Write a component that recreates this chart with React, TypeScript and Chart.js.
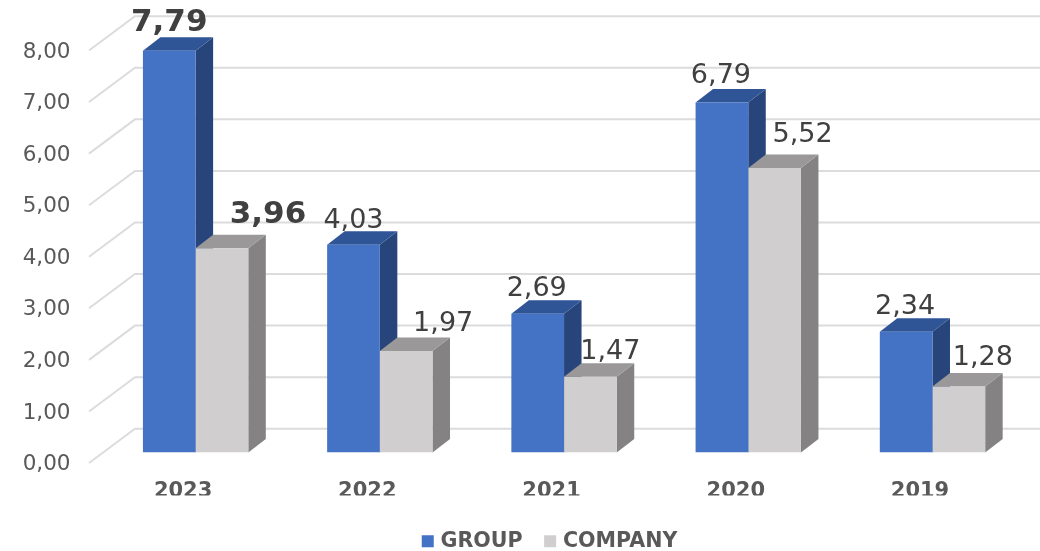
import React, { useEffect, useRef } from "react";
import { Chart, registerables } from "chart.js";

Chart.register(...registerables);

const categories = ["2023", "2022", "2021", "2020", "2019"];
const groupValues = [7.79, 4.03, 2.69, 6.79, 2.34];
const companyValues = [3.96, 1.97, 1.47, 5.52, 1.28];
const seriesNames = ["GROUP", "COMPANY"];

// Data label placement relative to the top centre of each bar: [dx, dy].
const groupLabelShift = [[0, -28], [0, -24], [-1, -25], [-1, -26], [-1, -25]];
const companyLabelShift = [[46, -33], [37, -27], [20, -25], [28, -33], [24, -29]];
const boldCategory = "2023";

const FONT = '"DejaVu Sans", Verdana, sans-serif';
const TEXT = "#595959";
const VALUE_TEXT = "#404040";
const GRID = "#DCDCDC";
const faces = [
  { front: "#4472C4", top: "#2F5597", side: "#27457B" },
  { front: "#D0CECE", top: "#9A9898", side: "#848282" },
];
// Oblique projection of the bars and of the floor/wall grid.
const BAR_DX = 17.5;
const BAR_DY = 13.5;

const formatValue = (v: number) => v.toFixed(2).replace(".", ",");

const wallPlugin = {
  id: "wall",
  beforeDatasetsDraw(chart: any) {
    const { ctx, scales, chartArea } = chart;
    const y = scales.y;
    ctx.save();
    ctx.strokeStyle = GRID;
    ctx.lineWidth = 2;
    y.ticks.forEach((t: any) => {
      const py = y.getPixelForValue(t.value);
      ctx.beginPath();
      ctx.moveTo(chartArea.left - 14.5, py + 10.5);
      ctx.lineTo(chartArea.left + 31.5, py - 23.8);
      ctx.lineTo(chart.width, py - 23.8);
      ctx.stroke();
    });
    ctx.restore();
  },
};

// Side and top faces go under the flat bars the library draws as front faces.
const depthPlugin = {
  id: "depth",
  beforeDatasetsDraw(chart: any) {
    const { ctx } = chart;
    ctx.save();
    [0, 1].forEach((d) => {
      chart.getDatasetMeta(d).data.forEach((bar: any) => {
        const { x, y, base, width } = bar.getProps(["x", "y", "base", "width"], true);
        const l = x - width / 2;
        const r = x + width / 2;
        ctx.fillStyle = faces[d].side;
        ctx.beginPath();
        ctx.moveTo(r, y);
        ctx.lineTo(r + BAR_DX, y - BAR_DY);
        ctx.lineTo(r + BAR_DX, base - BAR_DY);
        ctx.lineTo(r, base);
        ctx.closePath();
        ctx.fill();
        ctx.fillStyle = faces[d].top;
        ctx.beginPath();
        ctx.moveTo(l, y);
        ctx.lineTo(l + BAR_DX, y - BAR_DY);
        ctx.lineTo(r + BAR_DX, y - BAR_DY);
        ctx.lineTo(r, y);
        ctx.closePath();
        ctx.fill();
      });
    });
    ctx.restore();
  },
};

const valueLabelPlugin = {
  id: "valueLabels",
  afterDatasetsDraw(chart: any) {
    const { ctx } = chart;
    const shifts = [groupLabelShift, companyLabelShift];
    ctx.save();
    ctx.textAlign = "center";
    ctx.textBaseline = "middle";
    ctx.fillStyle = VALUE_TEXT;
    [0, 1].forEach((d) => {
      chart.getDatasetMeta(d).data.forEach((bar: any, i: number) => {
        const { x, y } = bar.getProps(["x", "y"], true);
        const bold = categories[i] === boldCategory;
        ctx.font = bold ? `bold 31px ${FONT}` : `27px ${FONT}`;
        const value = chart.data.datasets[d].data[i];
        ctx.fillText(formatValue(value), x + shifts[d][i][0], y + shifts[d][i][1]);
      });
    });
    ctx.restore();
  },
};

// Moves the legend off the canvas centre, down to the bottom edge.
const legendPlacement = {
  id: "legendPlacement",
  afterLayout(chart: any) {
    const lg = chart.legend;
    lg.left += 39;
    lg.right += 39;
    lg.top += 10.5;
    lg.bottom += 10.5;
  },
};

export default function App() {
  const ref = useRef<HTMLCanvasElement>(null);
  useEffect(() => {
    const chart = new Chart(ref.current!, {
      type: "bar",
      data: {
        labels: categories,
        datasets: [
          { label: seriesNames[0], data: groupValues, backgroundColor: faces[0].front, borderWidth: 0 },
          { label: seriesNames[1], data: companyValues, backgroundColor: faces[1].front, borderWidth: 0 },
        ],
      },
      plugins: [wallPlugin, depthPlugin, valueLabelPlugin, legendPlacement],
      options: {
        responsive: false,
        animation: false,
        events: [],
        layout: { padding: { top: 40, right: 15.4, left: 0, bottom: 0 } },
        datasets: { bar: { categoryPercentage: 0.572, barPercentage: 1 } },
        scales: {
          x: {
            grid: { display: false, drawTicks: false },
            border: { display: false },
            afterFit: (s: any) => { s.height = 42.9; },
            ticks: {
              padding: 26,
              labelOffset: -12.5,
              color: TEXT,
              font: { family: FONT, size: 21, weight: "bold" },
              maxRotation: 0,
            },
          },
          y: {
            min: 0,
            max: 8,
            grid: { display: false, drawTicks: false },
            border: { display: false },
            afterFit: (s: any) => {
              s.width = 103.5;
              // The tick labels sit inside the fixed margins already.
              s.paddingTop = 0;
              s.paddingBottom = 0;
            },
            ticks: {
              stepSize: 1,
              padding: 33,
              labelOffset: 12,
              color: TEXT,
              font: { family: FONT, size: 21.5 },
              callback: (v: any) => formatValue(Number(v)),
            },
          },
        },
        plugins: {
          tooltip: { enabled: false },
          legend: {
            position: "bottom",
            labels: {
              color: TEXT,
              font: { family: FONT, size: 20.6, weight: "bold" },
              boxWidth: 5,
              boxHeight: 5,
              padding: 25,
              generateLabels: (c: any) =>
                Chart.defaults.plugins.legend.labels.generateLabels(c).map((item: any) => ({
                  ...item,
                  strokeStyle: item.fillStyle,
                  lineWidth: 7,
                })),
            },
          },
        },
      },
    } as any);
    return () => chart.destroy();
  }, []);
  return (
    <div style={{ position: "absolute", left: 0, top: 0, width: 1040, height: 551, background: "#fff" }}>
      <canvas ref={ref} width={1040} height={551} style={{ display: "block" }} />
    </div>
  );
}
